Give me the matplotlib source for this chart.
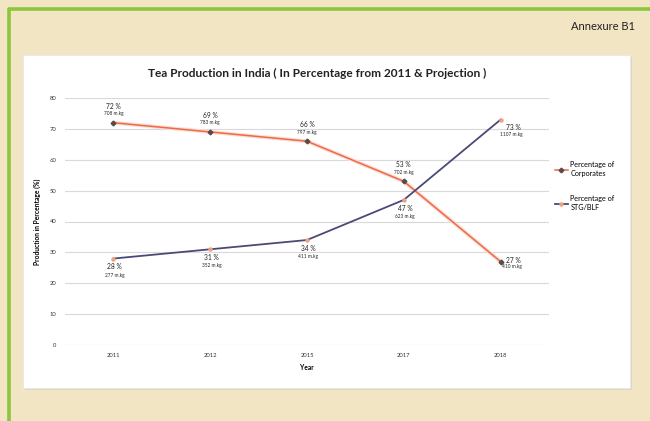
import matplotlib
matplotlib.use("Agg")
import matplotlib.pyplot as plt
from matplotlib.patches import Rectangle
from matplotlib.lines import Line2D

# chart data
years = ["2011", "2012", "2015", "2017", "2018"]
corporates = [72, 69, 66, 53, 27]
stg_blf = [28, 31, 34, 47, 73]
corporates_kg = ["708 m.kg", "783 m.kg", "797 m.kg", "702 m.kg", "410 m.kg"]
stg_blf_kg = ["277 m.kg", "352 m.kg", "411 m.kg", "623 m.kg", "1107 m.kg"]

W, H = 650, 421
plt.rcParams["font.family"] = ["Lato", "DejaVu Sans"]


# px(x, y) - pixel position (top-left origin) to figure fraction
def px(x, y):
    return x / W, 1 - y / H


fig = plt.figure(figsize=(W / 100, H / 100), dpi=100)
fig.patch.set_facecolor("#F2E5C3")

# green frame on the top and left edges only
fx0, fy0 = px(9, 421)
fx1, fy1 = px(650, 9)
fig.lines.append(Line2D([fx0, fx0, fx1], [fy0, fy1, fy1], transform=fig.transFigure,
                        color="#8CC63E", linewidth=2.6, zorder=-3))
# white panel with a soft shadow
fig.patches.append(Rectangle(px(25, 390), 607 / W, 333 / H, transform=fig.transFigure,
                             facecolor="#DCD6C6", edgecolor="none", zorder=-2))
fig.patches.append(Rectangle(px(23, 388), 607 / W, 333 / H, transform=fig.transFigure,
                             facecolor="white", edgecolor="#E8E8E8", linewidth=0.6, zorder=-1))

fig.text(*px(635, 26), "Annexure B1", ha="right", va="center", fontsize=8, color="#222222")
fig.text(*px(317, 73), "Tea Production in India ( In Percentage from 2011 & Projection )",
         ha="center", va="center", fontsize=8.6, fontweight="bold", color="#222222")

ax = fig.add_axes([65 / W, 1 - 345 / H, (549 - 65) / W, (345 - 98) / H])
ax.set_zorder(5)
ax.set_facecolor("white")
x = list(range(len(years)))

ax.plot(x, corporates, color="#FADDD3", linewidth=2.8, zorder=2, solid_capstyle="round")
l1, = ax.plot(x, corporates, color="#EE6A47", linewidth=1.1, marker="D", markersize=2.4,
              markerfacecolor="#5A4A4A", markeredgecolor="#5A4A4A", zorder=3,
              label="Percentage of\nCorporates")
l2, = ax.plot(x, stg_blf, color="#4A4A78", linewidth=1.3, marker="o", markersize=2.2,
              markerfacecolor="#F2A07E", markeredgecolor="#F2A07E", zorder=3,
              label="Percentage of\nSTG/BLF")

# value labels: corporates above the points, STG/BLF below
last = len(years) - 1
for i in range(len(years)):
    if i < last:
        c_off = [(0, 12), (0, 6.5)]
        s_off = [(1, -6), (1, -12)]
    else:
        c_off = [(9, 1), (8, -3.5)]
        s_off = [(9, -5.5), (8, -11)]
    ax.annotate(f"{corporates[i]} %", (x[i], corporates[i]), xytext=c_off[0],
                textcoords="offset points", ha="center", va="center", fontsize=4.8, color="#222222")
    ax.annotate(corporates_kg[i], (x[i], corporates[i]), xytext=c_off[1],
                textcoords="offset points", ha="center", va="center", fontsize=3.4, color="#222222")
    ax.annotate(f"{stg_blf[i]} %", (x[i], stg_blf[i]), xytext=s_off[0],
                textcoords="offset points", ha="center", va="center", fontsize=4.8, color="#222222")
    ax.annotate(stg_blf_kg[i], (x[i], stg_blf[i]), xytext=s_off[1],
                textcoords="offset points", ha="center", va="center", fontsize=3.4, color="#222222")

ax.set_xlim(-0.5, len(years) - 0.5)
ax.set_ylim(0, 80)
ax.set_xticks(x)
ax.set_xticklabels(years)
ax.set_yticks(range(0, 81, 10))
ax.grid(axis="y", color="#D9D9D9", linewidth=0.8)
ax.set_axisbelow(True)
for s in ax.spines.values():
    s.set_visible(False)
ax.tick_params(length=0, labelsize=4.2, colors="#333333")
ax.tick_params(axis="y", pad=6)
ax.tick_params(axis="x", pad=6)
ax.set_xlabel("Year", fontsize=4.8, fontweight="bold", labelpad=4)
ax.set_ylabel("Production in Percentage (%)", fontsize=4.8, fontweight="bold", labelpad=6)

fig.legend(handles=[l1, l2], loc="upper left", bbox_to_anchor=px(548, 155), frameon=False,
           fontsize=5.2, handlelength=1.8, labelspacing=2.6, handletextpad=0.4)

fig.savefig("out.png", dpi=100, facecolor=fig.get_facecolor())
